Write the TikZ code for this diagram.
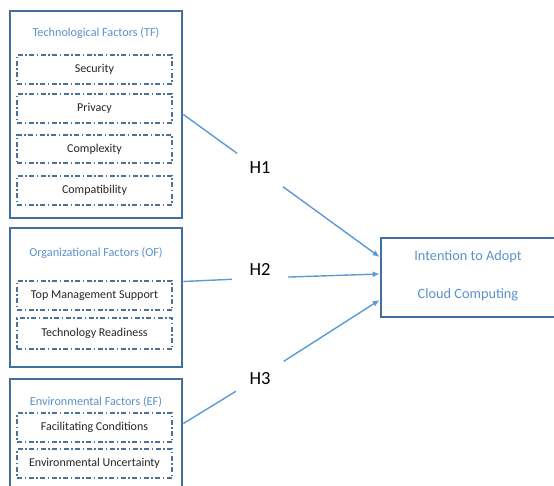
\documentclass[tikz,border=0pt]{standalone}
\usepackage{fontspec}
\setmainfont{Carlito}
\usetikzlibrary{arrows.meta}
\definecolor{boxblue}{HTML}{41709E}
\definecolor{lineblue}{HTML}{5B9BD5}
\definecolor{titleblue}{HTML}{5A92CC}
\definecolor{dashblue}{HTML}{4D7298}
\definecolor{txtgray}{HTML}{262626}
\tikzset{
  outerbox/.style={draw=boxblue, line width=2.8pt, fill=white, inner sep=0pt, minimum width=172pt},
  innerbox/.style={draw=dashblue, line width=1.1pt, dash pattern=on 5pt off 2.5pt on 1.5pt off 2.5pt,
    minimum width=155pt, minimum height=29pt, inner sep=0pt, text=txtgray, font=\fontsize{12}{14}\selectfont},
  boxtitle/.style={text=titleblue, font=\fontsize{12.2}{14}\selectfont, inner sep=0pt},
  hyp/.style={circle, minimum size=56pt, inner sep=0pt},
  hlab/.style={font=\fontsize{18.5}{20}\selectfont, text=black, inner sep=0pt},
  conn/.style={draw=lineblue, line width=1.4pt},
  arr/.style={conn, -{Latex[length=7pt,width=6pt]}},
  intbox/.style={draw=boxblue, line width=2.8pt, minimum width=179pt, minimum height=79pt, inner sep=0pt},
  inttext/.style={text=titleblue, font=\fontsize{14.3}{16}\selectfont, inner sep=0pt}
}
\begin{document}
\begin{tikzpicture}[x=1pt,y=-1pt]
\useasboundingbox (0,0) rectangle (554,486);
% outer boxes
\node[outerbox, minimum height=207pt] (tf) at (96,114.5) {};
\node[outerbox, minimum height=139pt] (of) at (96,297.5) {};
\node[outerbox, minimum height=121pt] (ef) at (96,439.5) {};
% titles
\node[boxtitle] (tft) at (96,33) {Technological Factors (TF)};
\node[boxtitle] (oft) at (96,253) {Organizational Factors (OF)};
\node[boxtitle] (eft) at (96,402) {Environmental Factors (EF)};
% inner boxes
\node[innerbox] (sec) at (94.5,69.5) {Security};
\node[innerbox] (pri) at (94.5,108.5) {Privacy};
\node[innerbox, minimum height=28pt] (com) at (94.5,149) {Complexity};
\node[innerbox] (cpt) at (94.5,190.5) {Compatibility};
\node[innerbox] (tms) at (94.5,295.5) {Top Management Support};
\node[innerbox, minimum height=31pt] (tr) at (94.5,333.5) {Technology Readiness};
\node[innerbox] (fc) at (94.5,427.5) {Facilitating Conditions};
\node[innerbox] (eu) at (94.5,463.5) {Environmental Uncertainty};
% intention box
\node[intbox] (int) at (470.5,277.5) {};
\node[inttext] (it1) at (468,257) {Intention to Adopt};
\node[inttext] (it2) at (468,295) {Cloud Computing};
% hypotheses
\node[hyp, label={[hlab,yshift=2pt]center:H1}] (h1) at (260,170) {};
\node[hyp, label={[hlab,yshift=9pt]center:H2}] (h2) at (260,278) {};
\node[hyp, label={[hlab,yshift=-2.5pt]center:H3}] (h3) at (260,376.5) {};
% connectors
\draw[conn] (tf.east) -- (h1);
\draw[arr] (h1) -- ([yshift=20.5pt]int.west);
\draw[conn] ([yshift=16pt]of.east) -- (h2);
\draw[arr] (h2) -- ([yshift=3.5pt]int.west);
\draw[conn] ([yshift=16pt]ef.east) -- (h3);
\draw[arr] (h3) -- ([yshift=-22.5pt]int.west);
\end{tikzpicture}
\end{document}
